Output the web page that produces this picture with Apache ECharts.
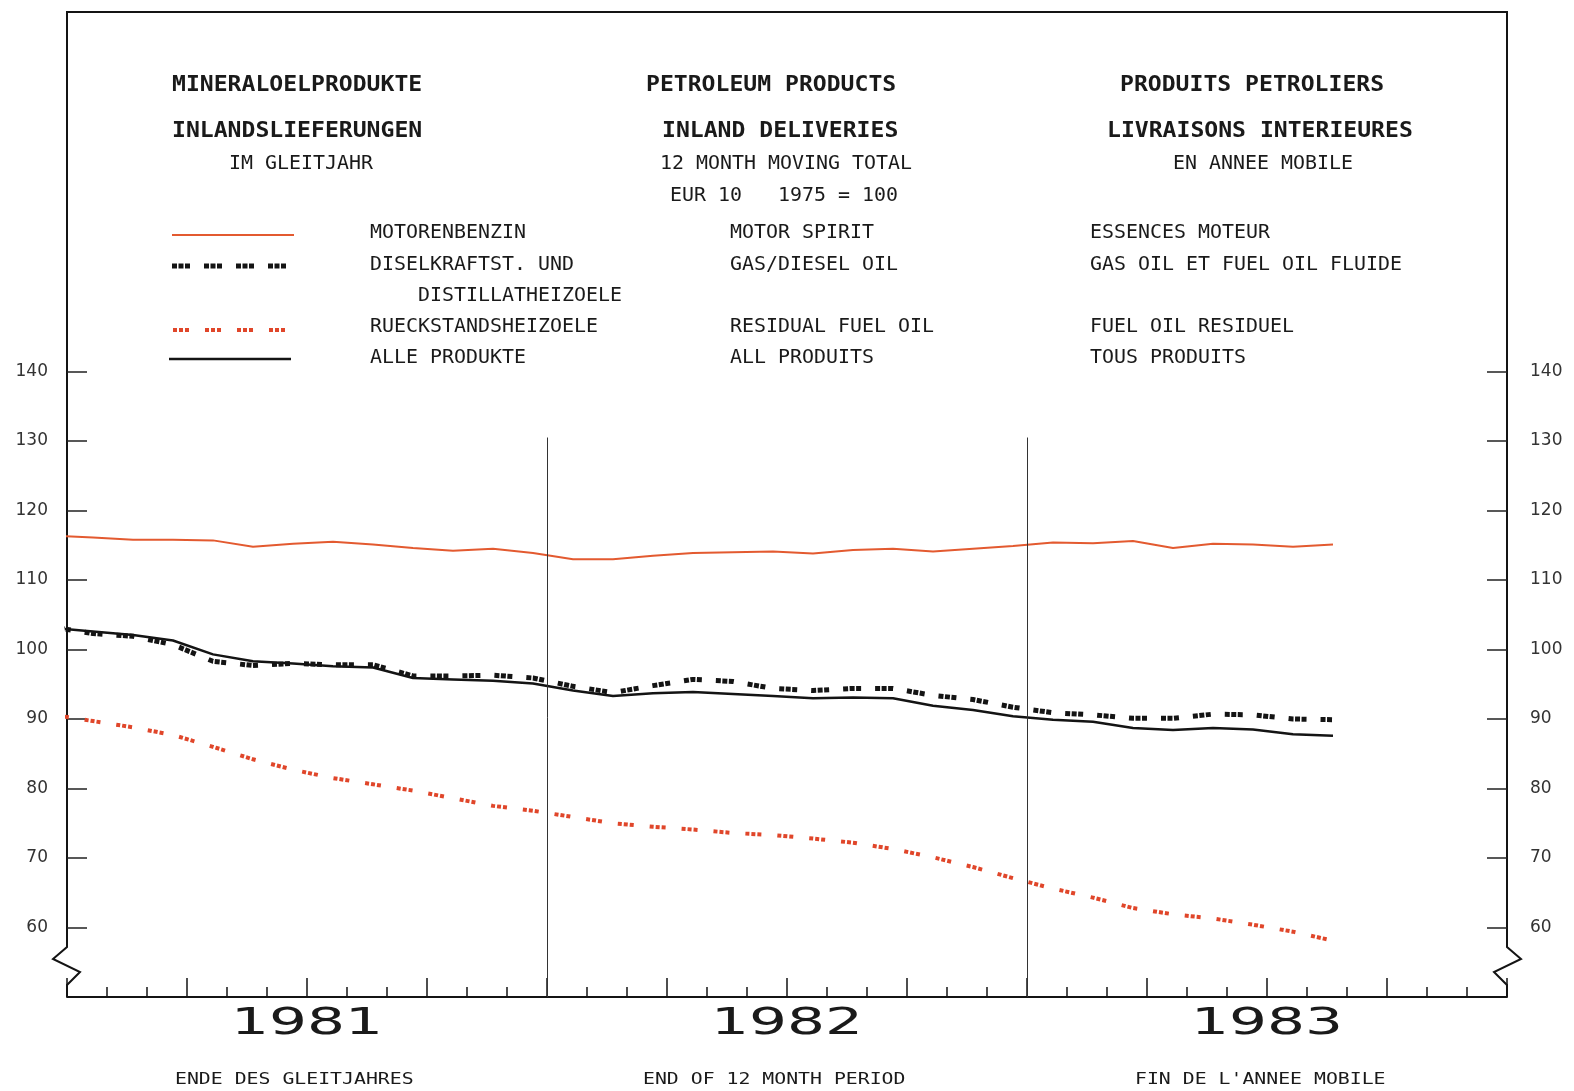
<!DOCTYPE html>
<html><head><meta charset="utf-8">
<script src="https://cdn.jsdelivr.net/npm/echarts@6/dist/echarts.min.js"></script>
<style>html,body{margin:0;padding:0;background:#fff}#c{width:1574px;height:1091px}</style>
</head><body><div id="c"></div>
<script>
// ---- data (12 month moving totals, 1975 = 100) ----
const periods = ['1980-12','1981-01','1981-02','1981-03','1981-04','1981-05','1981-06','1981-07','1981-08','1981-09','1981-10','1981-11','1981-12',
  '1982-01','1982-02','1982-03','1982-04','1982-05','1982-06','1982-07','1982-08','1982-09','1982-10','1982-11','1982-12',
  '1983-01','1983-02','1983-03','1983-04','1983-05','1983-06','1983-07','1983-08'];
const motorSpirit = [116.4,116.1,115.8,115.8,115.7,114.8,115.2,115.5,115.1,114.6,114.2,114.5,113.9,113.0,113.0,113.5,113.9,114.0,114.1,113.8,114.3,114.5,114.1,114.5,114.9,115.4,115.3,115.6,114.6,115.2,115.1,114.8,115.1];
const gasDieselOil = [103.2,102.3,101.9,100.7,98.3,97.7,98.0,97.8,97.8,96.2,96.2,96.3,95.9,94.7,93.8,94.8,95.7,95.4,94.4,94.1,94.4,94.4,93.4,92.8,91.7,90.9,90.6,90.1,90.1,90.7,90.6,90.0,89.9];
const residualFuelOil = [90.6,89.7,88.8,87.7,86.0,84.2,82.7,81.5,80.6,79.7,78.6,77.5,76.8,75.9,75.0,74.5,74.1,73.6,73.3,72.8,72.2,71.3,70.1,68.7,67.1,65.6,64.3,62.8,61.9,61.3,60.4,59.4,58.1];
const allProducts = [103.1,102.6,102.1,101.3,99.3,98.3,98.0,97.6,97.4,95.9,95.7,95.5,95.1,94.1,93.3,93.7,93.9,93.6,93.3,93.0,93.1,93.0,91.9,91.3,90.4,89.9,89.6,88.7,88.4,88.7,88.5,87.8,87.6];
const yTicks = [60,70,80,90,100,110,120,130,140];
const yearLabels = ['1981','1982','1983'];
const yearBreaks = [12, 24];

// ---- layout ----
const W = 1574, H = 1091;
const G = {left: 67, right: 67, top: 12, bottom: 94};
const L = G.left, R = W - G.right, T = G.top, B = H - G.bottom;
const PLOT_OFFSET = 0.65; // position of a month's value inside its month
function monthPos(p) { const [y, m] = p.split('-').map(Number); return (y - 1981) * 12 + (m - 1) + PLOT_OFFSET; }
const xs = periods.map(monthPos);
const pairs = arr => arr.map((v, i) => [xs[i], v]);

const RED1 = '#e35a30', RED2 = '#e0462a', BLK = '#141414';
const MONO = '"DejaVu Sans Mono", monospace';

function txt(x, y, text, font, sx, align) {
  return {type: 'text', x: x, y: y, scaleX: sx, silent: true,
    style: {text: text, font: font, fill: '#1a1a1a', textAlign: align || 'left', align: align || 'left',
      textVerticalAlign: 'middle', verticalAlign: 'middle'}};
}
const fBold = 'bold 22px ' + MONO, sBold = 13.9 / (0.602 * 22);
const fNorm = '19px ' + MONO, sNorm = 12 / (0.602 * 19);
const fSmall = '15px ' + MONO, sSmall = 11.93 / (0.602 * 15);
const fYear = '38px "DejaVu Sans"', sYear = 152 / (4 * 0.636 * 38);

const graphics = [
  // frame with axis breaks
  {type: 'polyline', silent: true, shape: {points: [[L, B], [L, B - 12], [L + 13, B - 25], [L - 14, B - 38], [L, B - 50], [L, T], [R, T],
      [R, B - 50], [R + 14, B - 38], [R - 13, B - 25], [R, B - 12], [R, B]]},
    style: {stroke: BLK, lineWidth: 2, fill: null}},
  txt(172, 85, 'MINERALOELPRODUKTE', fBold, sBold),
  txt(646, 85, 'PETROLEUM PRODUCTS', fBold, sBold),
  txt(1120, 85, 'PRODUITS PETROLIERS', fBold, sBold),
  txt(172, 131, 'INLANDSLIEFERUNGEN', fBold, sBold),
  txt(662, 131, 'INLAND DELIVERIES', fBold, sBold),
  txt(1107, 131, 'LIVRAISONS INTERIEURES', fBold, sBold),
  txt(229, 164, 'IM GLEITJAHR', fNorm, sNorm),
  txt(660, 164, '12 MONTH MOVING TOTAL', fNorm, sNorm),
  txt(1173, 164, 'EN ANNEE MOBILE', fNorm, sNorm),
  txt(670, 196, 'EUR 10   1975 = 100', fNorm, sNorm),
  txt(370, 233, 'MOTORENBENZIN', fNorm, sNorm),
  txt(730, 233, 'MOTOR SPIRIT', fNorm, sNorm),
  txt(1090, 233, 'ESSENCES MOTEUR', fNorm, sNorm),
  txt(370, 265, 'DISELKRAFTST. UND', fNorm, sNorm),
  txt(730, 265, 'GAS/DIESEL OIL', fNorm, sNorm),
  txt(1090, 265, 'GAS OIL ET FUEL OIL FLUIDE', fNorm, sNorm),
  txt(418, 296, 'DISTILLATHEIZOELE', fNorm, sNorm),
  txt(370, 327, 'RUECKSTANDSHEIZOELE', fNorm, sNorm),
  txt(730, 327, 'RESIDUAL FUEL OIL', fNorm, sNorm),
  txt(1090, 327, 'FUEL OIL RESIDUEL', fNorm, sNorm),
  txt(370, 358, 'ALLE PRODUKTE', fNorm, sNorm),
  txt(730, 358, 'ALL PRODUITS', fNorm, sNorm),
  txt(1090, 358, 'TOUS PRODUITS', fNorm, sNorm),
  // legend samples
  {type: 'line', silent: true, shape: {x1: 172, y1: 235, x2: 294, y2: 235}, style: {stroke: RED1, lineWidth: 2}},
  {type: 'line', silent: true, shape: {x1: 172, y1: 266, x2: 292, y2: 266}, style: {stroke: BLK, lineWidth: 5, lineDash: [5, 1.5, 5, 1.5, 5, 14], lineCap: 'butt'}},
  {type: 'line', silent: true, shape: {x1: 173, y1: 330, x2: 293, y2: 330}, style: {stroke: RED2, lineWidth: 4, lineDash: [4, 2, 4, 2, 4, 16], lineCap: 'butt'}},
  {type: 'line', silent: true, shape: {x1: 169, y1: 359, x2: 291, y2: 359}, style: {stroke: BLK, lineWidth: 2.5}},
  // bottom captions
  txt(175, 1080, 'ENDE DES GLEITJAHRES', fSmall, sSmall),
  txt(643, 1080, 'END OF 12 MONTH PERIOD', fSmall, sSmall),
  txt(1135, 1080, "FIN DE L'ANNEE MOBILE", fSmall, sSmall)
];
yearLabels.forEach((lab, i) => {
  const cx = L + (6 + 12 * i) / 36 * (R - L);
  graphics.push(txt(cx, 1024, lab, fYear, sYear, 'center'));
});

const yAxisBase = (pos, margin) => ({
  type: 'value', position: pos, min: 50, max: 50 + (B - T) / 6.95, interval: 10,
  axisLine: {show: false},
  axisTick: {show: true, inside: true, length: 20, customValues: yTicks, lineStyle: {color: '#222', width: 1.5}},
  axisLabel: {customValues: yTicks, margin: margin, color: '#333', fontSize: 17, fontFamily: 'DejaVu Sans', padding: [0, 0, 10, 0]},
  splitLine: {show: false}
});

const chart = echarts.init(document.getElementById('c'));
chart.setOption({
  backgroundColor: '#ffffff',
  animation: false,
  grid: {left: G.left, right: G.right, top: G.top, bottom: G.bottom, containLabel: false},
  xAxis: {
    type: 'value', min: 0, max: 36, interval: 3,
    axisLine: {show: true, onZero: false, lineStyle: {color: BLK, width: 2}},
    axisTick: {show: true, inside: true, length: 19, lineStyle: {color: BLK, width: 1.5}},
    minorTick: {show: true, splitNumber: 3, length: 10, lineStyle: {color: BLK, width: 1.5}},
    axisLabel: {show: false}, splitLine: {show: false}, minorSplitLine: {show: false}
  },
  yAxis: [yAxisBase('left', 19), yAxisBase('right', 23)],
  series: [
    {name: 'MOTOR SPIRIT', type: 'line', data: pairs(motorSpirit), showSymbol: false, silent: true,
      lineStyle: {color: RED1, width: 2}},
    {name: 'ALL PRODUITS', type: 'line', data: pairs(allProducts), showSymbol: false, silent: true,
      lineStyle: {color: BLK, width: 2.5},
      markLine: {silent: true, symbol: 'none', label: {show: false},
        lineStyle: {color: '#333', width: 1, type: 'solid'},
        data: yearBreaks.map(x => [{coord: [x, 50]}, {coord: [x, 130.5]}])}},
    {name: 'GAS/DIESEL OIL', type: 'line', data: pairs(gasDieselOil), showSymbol: false, silent: true,
      lineStyle: {color: BLK, width: 5, type: [5, 1.5, 5, 1.5, 5, 14], cap: 'butt'}},
    {name: 'RESIDUAL FUEL OIL', type: 'line', data: pairs(residualFuelOil), showSymbol: false, silent: true,
      lineStyle: {color: RED2, width: 4, type: [4, 2, 4, 2, 4, 16], cap: 'butt'}}
  ],
  graphic: graphics
});
</script></body></html>
